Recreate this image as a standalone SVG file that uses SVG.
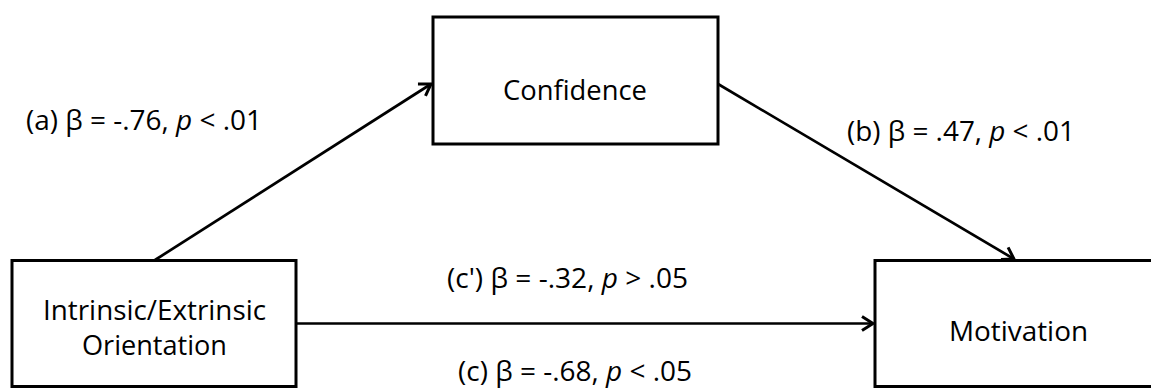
<svg xmlns="http://www.w3.org/2000/svg" width="1151" height="389" viewBox="0 0 1151 389">
  <style>
    .box { fill: #ffffff; stroke: #000000; stroke-width: 3; }
    .t { font-family: "Open Sans", "Noto Sans", "Liberation Sans", sans-serif; font-size: 27px; fill: #000000; }
    .conn { stroke: #000000; stroke-width: 2.7; fill: none; marker-end: url(#arr); }
    .i { font-style: italic; }
  </style>
  <defs>
    <marker id="arr" markerUnits="userSpaceOnUse" markerWidth="20" markerHeight="20" refX="13" refY="8" orient="auto" viewBox="0 0 20 16">
      <path d="M2,1 L13,8 L2,15" fill="none" stroke="#000000" stroke-width="3"/>
    </marker>
  </defs>
  <rect width="1151" height="389" fill="#ffffff"/>
  <g id="connectors">
    <line class="conn" x1="155" y1="260" x2="431" y2="84"/>
    <line class="conn" x1="718" y1="84" x2="1014" y2="259"/>
    <line class="conn" x1="296" y1="323.5" x2="873" y2="323.5"/>
  </g>
  <g id="confidence">
    <rect class="box" x="433" y="17" width="285" height="127"/>
    <text class="t" x="503" y="100" textLength="144" lengthAdjust="spacingAndGlyphs">Confidence</text>
  </g>
  <g id="orientation">
    <rect class="box" x="12" y="260.5" width="284" height="126"/>
    <text class="t" x="43" y="320" textLength="223" lengthAdjust="spacingAndGlyphs">Intrinsic/Extrinsic</text>
    <text class="t" x="82" y="355" textLength="145" lengthAdjust="spacingAndGlyphs">Orientation</text>
  </g>
  <g id="motivation">
    <rect class="box" x="875" y="260.5" width="290" height="126"/>
    <text class="t" x="949" y="341" textLength="139" lengthAdjust="spacingAndGlyphs">Motivation</text>
  </g>
  <g id="labels">
    <text class="t" x="26" y="130" textLength="236" lengthAdjust="spacingAndGlyphs">(a) β = -.76, <tspan class="i">p</tspan> &lt; .01</text>
    <text class="t" x="847" y="141" textLength="228" lengthAdjust="spacingAndGlyphs">(b) β = .47, <tspan class="i">p</tspan> &lt; .01</text>
    <text class="t" x="447" y="288" textLength="241" lengthAdjust="spacingAndGlyphs">(c') β = -.32, <tspan class="i">p</tspan> &gt; .05</text>
    <text class="t" x="458" y="381" textLength="234" lengthAdjust="spacingAndGlyphs">(c) β = -.68, <tspan class="i">p</tspan> &lt; .05</text>
  </g>
</svg>
